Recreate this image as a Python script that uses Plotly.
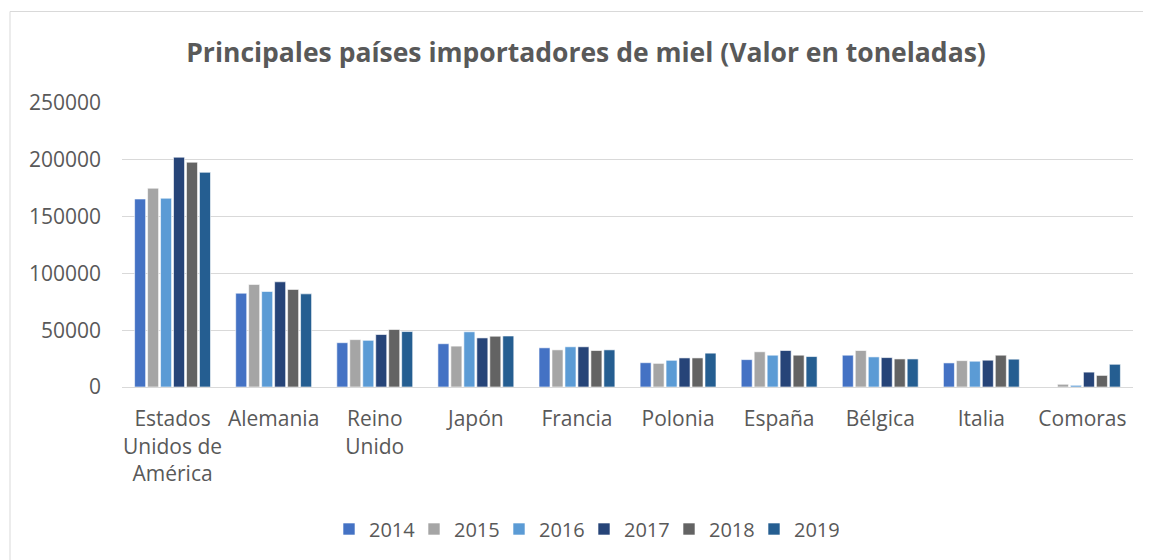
import plotly.graph_objects as go

categories = ["Estados<br>Unidos de<br>América", "Alemania", "Reino<br>Unido", "Japón", "Francia",
              "Polonia", "España", "Bélgica", "Italia", "Comoras"]
years = ["2014", "2015", "2016", "2017", "2018", "2019"]
v2014 = [165500, 82600, 39000, 38100, 34500, 21400, 24100, 28000, 21200, 0]
v2015 = [175000, 90300, 41700, 36000, 32700, 20800, 31000, 32100, 23200, 2400]
v2016 = [166200, 84100, 41100, 48600, 35400, 23500, 28000, 26500, 22700, 1500]
v2017 = [202300, 92600, 46200, 43200, 35400, 25600, 32100, 25900, 23600, 13100]
v2018 = [197900, 85900, 50600, 44700, 32100, 25600, 28000, 24700, 28000, 10200]
v2019 = [189000, 82000, 48800, 44900, 32700, 29800, 26800, 24700, 24500, 20000]
series = [v2014, v2015, v2016, v2017, v2018, v2019]
colors = ["#4472C4", "#A5A5A5", "#5B9BD5", "#264478", "#636363", "#255E91"]

fig = go.Figure()
for yr, vals, c in zip(years, series, colors):
    fig.add_trace(go.Bar(x=categories, y=vals, name=yr,
                         marker=dict(color=c, line=dict(color="rgba(255,255,255,0.6)", width=1))))

# page body has an 8px margin, so the figure coordinates are offset by 8px
OFF = 8
W, H = 1151 - OFF, 560 - OFF
L = 122 - OFF
T = 103 - OFF
R = W - (1133 - OFF)
B = H - (387 - OFF)
PW, PH = W - L - R, H - T - B
fig.update_layout(
    width=W, height=H,
    margin=dict(l=L, r=R, t=T, b=B),
    paper_bgcolor="white", plot_bgcolor="white",
    font=dict(family="Open Sans, sans-serif", size=21, color="#595959"),
    barmode="group", bargap=0.23, bargroupgap=0.15,
    title=dict(text="<b>Principales países importadores de miel (Valor en toneladas)</b>",
               x=(586 - OFF) / W, xref="container", xanchor="center",
               y=1 - (53 - OFF) / H, yref="container", yanchor="middle",
               font=dict(size=26.5, color="#595959")),
    legend=dict(orientation="h", x=(584 - OFF) / W, xref="container", xanchor="center",
                y=1 - (529 - OFF) / H, yref="container", yanchor="middle",
                font=dict(size=20, color="#595959"), itemwidth=30, traceorder="normal",
                entrywidth=40, entrywidthmode="pixels"),
    showlegend=True,
)
fig.update_yaxes(range=[0, 250000], dtick=50000, tickformat="d", showgrid=True,
                 gridcolor="#d9d9d9", gridwidth=1, zeroline=False, showline=False,
                 ticks="", ticklabelstandoff=20, tickfont=dict(size=21))
fig.update_xaxes(showline=True, linecolor="#d9d9d9", linewidth=1, ticks="",
                 ticklabelstandoff=13, tickangle=0, tickfont=dict(size=21))
fig.add_shape(type="rect", xref="paper", yref="paper",
              x0=(2 - L) / PW, x1=(W + 5 - L) / PW,
              y0=(H - B - (H + 5)) / PH, y1=(H - B - 3.5) / PH,
              line=dict(color="#d9d9d9", width=1), fillcolor="rgba(0,0,0,0)", layer="below")
fig.write_html("out.html")
